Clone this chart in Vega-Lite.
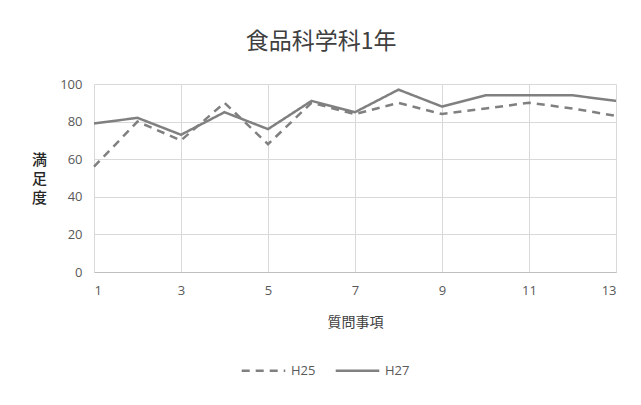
{
  "$schema": "https://vega.github.io/schema/vega-lite/v6.json",
  "autosize": "none",
  "width": 522,
  "height": 188,
  "padding": {"left": 94, "top": 84, "right": 25, "bottom": 133},
  "background": "white",
  "title": {
    "text": "食品科学科1年",
    "font": "Noto Sans CJK JP",
    "fontSize": 23,
    "fontWeight": "normal",
    "color": "#404040",
    "anchor": "middle",
    "dx": -34,
    "offset": 24
  },
  "data": {
    "values": [
      {"q": 1, "series": "H25", "v": 56}, {"q": 2, "series": "H25", "v": 80}, {"q": 3, "series": "H25", "v": 70},
      {"q": 4, "series": "H25", "v": 90}, {"q": 5, "series": "H25", "v": 68}, {"q": 6, "series": "H25", "v": 90},
      {"q": 7, "series": "H25", "v": 84}, {"q": 8, "series": "H25", "v": 90}, {"q": 9, "series": "H25", "v": 84},
      {"q": 10, "series": "H25", "v": 87}, {"q": 11, "series": "H25", "v": 90}, {"q": 12, "series": "H25", "v": 87},
      {"q": 13, "series": "H25", "v": 83},
      {"q": 1, "series": "H27", "v": 79}, {"q": 2, "series": "H27", "v": 82}, {"q": 3, "series": "H27", "v": 73},
      {"q": 4, "series": "H27", "v": 85}, {"q": 5, "series": "H27", "v": 76}, {"q": 6, "series": "H27", "v": 91},
      {"q": 7, "series": "H27", "v": 85}, {"q": 8, "series": "H27", "v": 97}, {"q": 9, "series": "H27", "v": 88},
      {"q": 10, "series": "H27", "v": 94}, {"q": 11, "series": "H27", "v": 94}, {"q": 12, "series": "H27", "v": 94},
      {"q": 13, "series": "H27", "v": 91}
    ]
  },
  "mark": {"type": "line", "strokeWidth": 2.5, "color": "#808080"},
  "encoding": {
    "x": {
      "field": "q", "type": "quantitative",
      "scale": {"domain": [1, 13], "nice": false, "zero": false},
      "axis": {
        "title": "質問事項",
        "values": [1, 3, 5, 7, 9, 11, 13],
        "format": "d",
        "ticks": false,
        "domainColor": "#bfbfbf",
        "gridColor": "#d9d9d9",
        "labelFont": "Open Sans",
        "labelFontSize": 13,
        "labelColor": "#595959",
        "labelPadding": 12,
        "titleFont": "Noto Sans CJK JP",
        "titleFontSize": 14,
        "titleFontWeight": "normal",
        "titleColor": "#404040",
        "titlePadding": 18
      }
    },
    "y": {
      "field": "v", "type": "quantitative",
      "scale": {"domain": [0, 100], "nice": false},
      "axis": {
        "title": ["満", "足", "度"],
        "titleAngle": 0,
        "titleAlign": "center",
        "titleBaseline": "top",
        "titleX": -55,
        "titleY": 68,
        "titleLineHeight": 19,
        "values": [0, 20, 40, 60, 80, 100],
        "ticks": false,
        "domain": false,
        "gridColor": "#d9d9d9",
        "labelFont": "Open Sans",
        "labelFontSize": 13,
        "labelColor": "#595959",
        "labelPadding": 12,
        "titleFont": "Noto Sans CJK JP",
        "titleFontSize": 15,
        "titleFontWeight": 500,
        "titleColor": "#262626"
      }
    },
    "strokeDash": {
      "field": "series", "type": "nominal",
      "scale": {"domain": ["H25", "H27"], "range": [[8, 6], [1, 0]]},
      "legend": {
        "title": null,
        "orient": "none",
        "direction": "horizontal",
        "legendX": 146,
        "legendY": 263,
        "symbolType": "stroke",
        "symbolSize": 1900,
        "symbolStrokeWidth": 2.5,
        "symbolStrokeColor": "#808080",
        "labelFont": "Open Sans",
        "labelFontSize": 13,
        "labelColor": "#595959",
        "labelOffset": 4,
        "columnPadding": 14
      }
    }
  },
  "config": {"view": {"stroke": null}}
}
